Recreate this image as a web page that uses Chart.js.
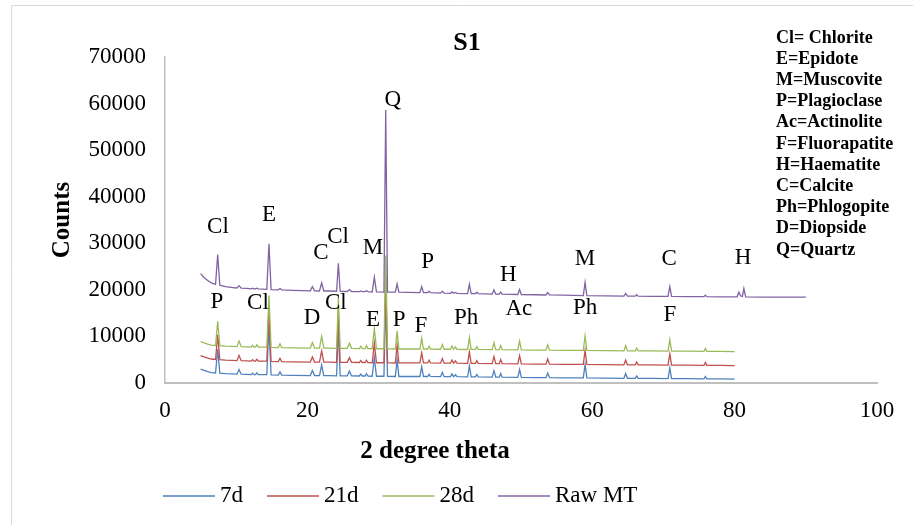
<!DOCTYPE html>
<html>
<head>
<meta charset="utf-8">
<title>S1</title>
<script src="https://cdn.jsdelivr.net/npm/chart.js@4.4.1/dist/chart.umd.min.js"></script>
<style>
  html, body { margin: 0; padding: 0; background: #fff; }
  #wrap { width: 913px; height: 525px; }
</style>
</head>
<body>
<div id="wrap"><canvas id="xrdChart" width="913" height="525"></canvas></div>
<script>
// 2 theta positions shared by the cured samples (one line per group of peaks)
const twoTheta = [
  5.0, 5.5, 6.0, 6.5, 7.1, 7.4, 7.7, 8.5, 9.5,
  10.1, 10.4, 10.7, 11.5, 12.1, 12.3, 12.5, 12.7, 12.9, 13.1,
  14.3, 14.6, 14.9, 15.9, 16.15, 16.4, 18.0,
  20.4, 20.7, 21.0, 21.7, 22.0, 22.3, 23.0,
  24.1, 24.35, 24.6, 25.6, 25.9, 26.2,
  27.3, 27.5, 27.7, 28.1, 28.3, 28.5,
  29.1, 29.4, 29.7, 30.75, 31.0, 31.25,
  32.35, 32.6, 32.85, 34.0,
  35.8, 36.05, 36.3, 36.9, 37.1, 37.3,
  38.7, 38.95, 39.2, 40.1, 40.3, 40.55, 40.8, 41.0,
  42.5, 42.75, 43.0, 43.6, 43.8, 44.0,
  45.95, 46.2, 46.45, 46.95, 47.15, 47.35,
  49.55, 49.8, 50.05, 52.0,
  53.5, 53.75, 54.0, 56.0,
  58.75, 59.0, 59.25, 62.0,
  64.45, 64.7, 64.95, 66.05, 66.25, 66.45, 68.5,
  70.65, 70.9, 71.15, 73.5,
  75.7, 75.9, 76.1, 78.0, 80.0
];
// raw material was scanned further, up to 90
const twoThetaTail = [80.35, 80.6, 80.85, 81.1, 81.3, 81.55, 84.0, 87.0, 90.0];

const counts7d = [
  3000, 2700, 2450, 2250, 2150, 7250, 2100, 2000, 1950,
  1900, 2900, 1900, 1850, 1800, 2100, 1800, 1800, 2200, 1800,
  1800, 12300, 1750, 1700, 2400, 1700, 1650,
  1600, 2700, 1600, 1600, 3900, 1600, 1600,
  1550, 12050, 1550, 1550, 2550, 1550,
  1500, 1900, 1500, 1500, 2000, 1500,
  1450, 5450, 1450, 1450, 18450, 1450,
  1400, 5000, 1400, 1400,
  1400, 3500, 1400, 1400, 1900, 1400,
  1350, 2250, 1350, 1350, 1950, 1350, 1750, 1350,
  1300, 3700, 1300, 1300, 1800, 1300,
  1250, 2650, 1250, 1250, 2050, 1250,
  1200, 2900, 1200, 1150,
  1150, 2150, 1150, 1100,
  1100, 4000, 1100, 1050,
  1000, 2000, 1000, 1000, 1500, 1000, 1000,
  950, 3250, 950, 950,
  900, 1400, 900, 900, 850
];
const counts21d = [
  5900, 5600, 5350, 5150, 5050, 10350, 5000, 4900, 4850,
  4800, 5900, 4800, 4750, 4700, 5000, 4700, 4700, 5100, 4700,
  4700, 15500, 4650, 4600, 5300, 4600, 4550,
  4500, 5600, 4500, 4500, 6900, 4500, 4500,
  4450, 15250, 4450, 4450, 5450, 4450,
  4400, 4800, 4400, 4400, 4900, 4400,
  4350, 8550, 4350, 4350, 22850, 4350,
  4300, 8100, 4300, 4300,
  4300, 6500, 4300, 4300, 4900, 4300,
  4250, 5250, 4250, 4250, 4950, 4250, 4750, 4250,
  4200, 6700, 4200, 4200, 4800, 4200,
  4150, 5650, 4150, 4150, 5050, 4150,
  4100, 5900, 4100, 4050,
  4050, 5150, 4050, 4000,
  4000, 7000, 4000, 3950,
  3900, 4900, 3900, 3900, 4500, 3900, 3900,
  3850, 6250, 3850, 3850,
  3800, 4400, 3800, 3800, 3750
];
const counts28d = [
  8900, 8600, 8350, 8150, 8050, 13250, 8000, 7900, 7850,
  7800, 9000, 7800, 7750, 7700, 8100, 7700, 7700, 8200, 7700,
  7700, 18800, 7650, 7600, 8400, 7600, 7550,
  7500, 8700, 7500, 7500, 10000, 7500, 7500,
  7450, 18450, 7450, 7450, 8550, 7450,
  7400, 7900, 7400, 7400, 8000, 7400,
  7350, 11650, 7350, 7350, 27350, 7350,
  7300, 11200, 7300, 7300,
  7300, 9600, 7300, 7300, 7900, 7300,
  7250, 8250, 7250, 7250, 7950, 7250, 7750, 7250,
  7200, 9800, 7200, 7200, 7800, 7200,
  7150, 8650, 7150, 7150, 8050, 7150,
  7100, 9000, 7100, 7050,
  7050, 8150, 7050, 7000,
  7000, 10100, 7000, 6950,
  6900, 8000, 6900, 6900, 7500, 6900, 6900,
  6850, 9350, 6850, 6850,
  6800, 7400, 6800, 6800, 6750
];
const countsRaw = [
  23500, 22600, 22000, 21500, 21200, 27600, 21000, 20700, 20500,
  20400, 20900, 20350, 20300, 20200, 20350, 20200, 20200, 20350, 20200,
  20100, 29900, 20050, 20000, 20300, 20000, 19900,
  19800, 20700, 19800, 19750, 21500, 19750, 19750,
  19700, 25700, 19700, 19650, 20050, 19650,
  19600, 19750, 19600, 19600, 19850, 19600,
  19550, 22700, 19550, 19500, 58600, 19500,
  19500, 21300, 19500, 19450,
  19400, 20700, 19400, 19400, 19700, 19400,
  19300, 19700, 19300, 19250, 19550, 19250, 19450, 19250,
  19200, 21200, 19200, 19200, 19500, 19200,
  19100, 20000, 19100, 19100, 19500, 19100,
  19000, 20100, 19000, 18950,
  18900, 19400, 18900, 18850,
  18750, 21600, 18750, 18700,
  18650, 19250, 18650, 18650, 18950, 18650, 18600,
  18600, 20700, 18600, 18550,
  18550, 18850, 18550, 18500, 18500
];
const countsRawTail = [18500, 19500, 18700, 18600, 20300, 18500, 18450, 18450, 18450];

const seriesNames = ["7d", "21d", "28d", "Raw MT"];
const seriesColors = ["#4F81BD", "#C0504D", "#9BBB59", "#8064A2"];

// phase letters written over the peaks
const peakLabels = ["Cl", "E", "C", "Cl", "M", "Q", "P", "H", "M", "C", "H",
                    "P", "Cl", "D", "Cl", "E", "P", "F", "Ph", "Ac", "Ph", "F"];
const peakLabelX = [7.44, 14.6, 21.9, 24.3, 29.2, 32.0, 36.9, 48.2, 59.0, 70.8, 81.2,
                    7.3, 13.06, 20.65, 24.0, 29.2, 32.9, 35.95, 42.3, 49.7, 59.0, 70.9];
const peakLabelY = [33500, 36070, 27900, 31350, 29000, 60770, 25980, 23190, 26620, 26620, 26840,
                    17390, 17180, 13960, 17180, 13530, 13530, 12240, 13960, 15890, 16100, 14600];

const keyLines = ["Cl= Chlorite", "E=Epidote", "M=Muscovite", "P=Plagioclase", "Ac=Actinolite",
                  "F=Fluorapatite", "H=Haematite", "C=Calcite", "Ph=Phlogopite", "D=Diopside", "Q=Quartz"];

const serif = "'Liberation Serif', 'Times New Roman', serif";

function toPoints(xs, ys) {
  return xs.map((x, i) => ({ x: x, y: ys[i] }));
}

const seriesData = [
  toPoints(twoTheta, counts7d),
  toPoints(twoTheta, counts21d),
  toPoints(twoTheta, counts28d),
  toPoints(twoTheta.concat(twoThetaTail), countsRaw.concat(countsRawTail))
];

const textPlugin = {
  id: "xrdText",
  afterDatasetsDraw(chart) {
    const ctx = chart.ctx;
    const xs = chart.scales.x, ys = chart.scales.y;
    ctx.save();
    ctx.fillStyle = "#000";
    ctx.font = "23px " + serif;
    ctx.textAlign = "center";
    ctx.textBaseline = "middle";
    peakLabels.forEach((t, i) => {
      ctx.fillText(t, xs.getPixelForValue(peakLabelX[i]), ys.getPixelForValue(peakLabelY[i]));
    });
    ctx.restore();
  },
  afterDraw(chart) {
    const ctx = chart.ctx;
    ctx.save();
    // outer frame
    ctx.strokeStyle = "#d9d9d9";
    ctx.lineWidth = 1;
    ctx.beginPath();
    ctx.moveTo(11.5, 525);
    ctx.lineTo(11.5, 5.5);
    ctx.lineTo(913, 5.5);
    ctx.stroke();

    ctx.fillStyle = "#000";
    ctx.textBaseline = "middle";
    ctx.textAlign = "center";
    ctx.font = "bold 26px " + serif;
    ctx.fillText("S1", 467, 43);
    ctx.font = "bold 25px " + serif;
    ctx.fillText("2 degree theta", 435, 452);

    ctx.textAlign = "left";
    ctx.font = "bold 18px " + serif;
    keyLines.forEach((t, i) => ctx.fillText(t, 776, 38 + i * 21.2));

    // legend
    ctx.font = "23px " + serif;
    let x = 163;
    const y = 496;
    chart.data.datasets.forEach((ds) => {
      ctx.strokeStyle = ds.borderColor;
      ctx.lineWidth = 1.5;
      ctx.beginPath();
      ctx.moveTo(x, y);
      ctx.lineTo(x + 52, y);
      ctx.stroke();
      x += 57;
      ctx.fillText(ds.label, x, y);
      x += ctx.measureText(ds.label).width + 24;
    });
    ctx.restore();
  }
};

new Chart(document.getElementById("xrdChart"), {
  type: "line",
  data: {
    datasets: seriesNames.map((name, i) => ({
      label: name,
      data: seriesData[i],
      borderColor: seriesColors[i],
      backgroundColor: seriesColors[i],
      borderWidth: 1.3,
      pointRadius: 0,
      tension: 0,
      fill: false,
      order: 4 - i
    }))
  },
  options: {
    responsive: false,
    animation: false,
    devicePixelRatio: 1,
    layout: { padding: { left: 10, right: 36, top: 57, bottom: 0 } },
    plugins: {
      legend: { display: false },
      title: { display: false },
      tooltip: { enabled: false }
    },
    scales: {
      x: {
        type: "linear",
        min: 0,
        max: 100,
        grid: { display: false, drawTicks: false },
        border: { display: true, color: "#bfbfbf", width: 2 },
        ticks: {
          stepSize: 20,
          autoSkip: false,
          maxRotation: 0,
          padding: 14,
          color: "#000",
          font: { family: serif, size: 23 }
        },
        afterFit(scale) { scale.height = 142; }
      },
      y: {
        min: 0,
        max: 70000,
        grid: { display: false, drawTicks: false },
        border: { display: true, color: "#bfbfbf", width: 1.5 },
        ticks: {
          stepSize: 10000,
          padding: 19,
          color: "#000",
          font: { family: serif, size: 23 },
          callback: (v) => String(v)
        },
        title: {
          display: true,
          text: "Counts",
          color: "#000",
          font: { family: serif, size: 25, weight: "bold" },
          padding: { top: 38, bottom: 0 }
        },
        afterFit(scale) { scale.width = 155; }
      }
    }
  },
  plugins: [textPlugin]
});
</script>
</body>
</html>
